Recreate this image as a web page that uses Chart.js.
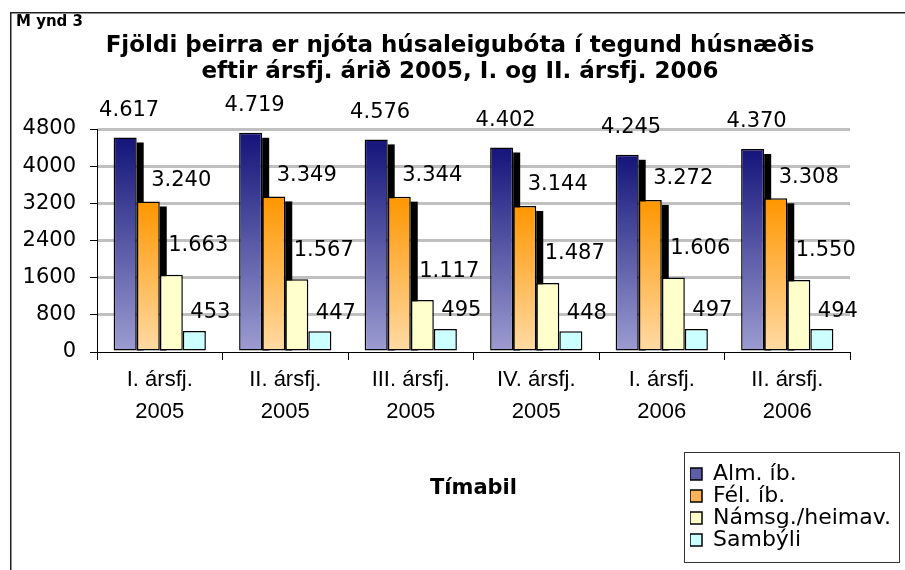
<!DOCTYPE html>
<html>
<head>
<meta charset="utf-8">
<script src="https://cdn.jsdelivr.net/npm/chart.js@4.4.0/dist/chart.umd.min.js"></script>
<style>
html,body{margin:0;padding:0;background:#fff;}
#wrap{width:905px;height:570px;position:relative;}
</style>
</head>
<body>
<div id="wrap"><canvas id="c" width="905" height="570"></canvas></div>
<script>
// ---- data ----
const categories = [
  ['I. ársfj.', '2005'],
  ['II. ársfj.', '2005'],
  ['III. ársfj.', '2005'],
  ['IV. ársfj.', '2005'],
  ['I. ársfj.', '2006'],
  ['II. ársfj.', '2006']
];
const seriesNames = ['Alm. íb.', 'Fél. íb.', 'Námsg./heimav.', 'Sambýli'];
const almIb   = [4617, 4719, 4576, 4402, 4245, 4370];
const felIb   = [3240, 3349, 3344, 3144, 3272, 3308];
const namsg   = [1663, 1567, 1117, 1487, 1606, 1550];
const sambyli = [453, 447, 495, 448, 497, 494];
const yTickValues = [0, 800, 1600, 2400, 3200, 4000, 4800];
const titleLines = ['Fjöldi þeirra er njóta húsaleigubóta í tegund húsnæðis', 'eftir ársfj. árið 2005, I. og II. ársfj. 2006'];
const xAxisTitle = 'Tímabil';
const figureLabel = 'M ynd 3';

// ---- styles ----
const SANS = '"DejaVu Sans", "Liberation Sans", sans-serif';
const CAT = '"Liberation Sans", Arial, sans-serif';
const barTop    = ['#14147a', '#ff9600', '#ffffcc', '#ccffff'];
const barBottom = ['#9d9dd2', '#ffdba6', '#ffffcc', '#ccffff'];
const legendFill = ['#5e5ea6', '#ffb45c', '#ffffcc', '#ccffff'];
const labelOffsets = [[4, -27], [33, -21], [27, -29], [16, -18]];
const shadowSeries = [0, 1];

function fmt(n) { return String(n).replace(/\B(?=(\d{3})+(?!\d))/g, '.'); }

function gradFor(i) {
  return function (ctx) {
    const chart = ctx.chart;
    if (ctx.type !== 'data' || !chart.chartArea || !chart.scales.y) return barTop[i];
    const y = chart.scales.y;
    const v = ctx.parsed ? ctx.parsed.y : ctx.raw;
    const yT = y.getPixelForValue(v), yB = y.getPixelForValue(0);
    if (!isFinite(yT) || !isFinite(yB) || yT === yB) return barTop[i];
    const g = chart.ctx.createLinearGradient(0, yT, 0, yB);
    g.addColorStop(0, barTop[i]);
    g.addColorStop(1, barBottom[i]);
    return g;
  };
}

const seriesValues = [almIb, felIb, namsg, sambyli];
const datasets = seriesValues.map((vals, i) => ({
  label: seriesNames[i],
  data: vals,
  backgroundColor: gradFor(i),
  borderColor: '#000',
  borderWidth: 1.5,
  borderSkipped: false,
  categoryPercentage: 0.735,
  barPercentage: 1.0
}));

const framePlugin = {
  id: 'frame',
  beforeDraw(chart) {
    const c = chart.ctx;
    c.save();
    c.fillStyle = '#fff';
    c.fillRect(0, 0, chart.width, chart.height);
    c.strokeStyle = '#222';
    c.lineWidth = 1.5;
    c.beginPath();
    c.moveTo(10.75, chart.height);
    c.lineTo(10.75, 12.75);
    c.lineTo(chart.width, 12.75);
    c.stroke();
    c.restore();
  },
  afterDraw(chart) {
    const c = chart.ctx;
    c.save();
    c.fillStyle = '#000';
    c.font = 'bold 15px ' + SANS;
    c.textBaseline = 'middle';
    c.textAlign = 'left';
    c.fillText(figureLabel, 16, 22);
    // legend frame
    c.strokeStyle = '#333';
    c.lineWidth = 1;
    c.strokeRect(684.5, 452.5, 215, 110);
    c.restore();
  }
};

const shadowPlugin = {
  id: 'shadow3d',
  beforeDatasetsDraw(chart) {
    const c = chart.ctx;
    c.save();
    c.fillStyle = '#000';
    shadowSeries.forEach(di => {
      chart.getDatasetMeta(di).data.forEach(el => {
        const p = el.getProps(['x', 'y', 'base', 'width'], true);
        c.fillRect(p.x + p.width / 2, p.y + 5, 7, p.base - p.y - 5);
      });
    });
    c.restore();
  }
};

const valueLabelPlugin = {
  id: 'valueLabels',
  afterDatasetsDraw(chart) {
    const c = chart.ctx;
    c.save();
    c.fillStyle = '#000';
    c.font = '21px ' + SANS;
    c.textAlign = 'center';
    c.textBaseline = 'middle';
    chart.data.datasets.forEach((ds, di) => {
      const off = labelOffsets[di];
      chart.getDatasetMeta(di).data.forEach((el, j) => {
        const p = el.getProps(['x', 'y'], true);
        c.fillText(fmt(ds.data[j]), p.x + off[0], p.y + off[1]);
      });
    });
    c.restore();
  }
};

const legendPlacePlugin = {
  id: 'legendPlace',
  afterLayout(chart) {
    const lg = chart.legend;
    if (!lg) return;
    lg.left = 690; lg.top = 463; lg.right = 899; lg.bottom = 560;
    lg.width = 209; lg.height = 97;
  }
};

new Chart(document.getElementById('c'), {
  type: 'bar',
  data: { labels: categories, datasets: datasets },
  options: {
    responsive: false,
    animation: false,
    devicePixelRatio: 1,
    layout: { padding: { left: 15, right: 0, top: 0, bottom: 0 } },
    plugins: {
      title: {
        display: true,
        text: titleLines,
        color: '#000',
        font: { family: SANS, weight: 'bold', size: 23, lineHeight: 26 / 23 },
        padding: { top: 33, bottom: 44 }
      },
      legend: {
        display: true,
        position: 'chartArea',
        align: 'start',
        labels: {
          color: '#000',
          font: { family: SANS, size: 22, lineHeight: 1.0 },
          boxWidth: 12,
          boxHeight: 12,
          padding: 0,
          generateLabels(chart) {
            return chart.data.datasets.map((ds, i) => ({
              text: ds.label,
              fillStyle: legendFill[i],
              strokeStyle: '#000',
              lineWidth: 1.5,
              hidden: false,
              datasetIndex: i
            }));
          }
        }
      },
      tooltip: { enabled: false }
    },
    scales: {
      x: {
        position: 'bottom',
        grid: { display: true, drawOnChartArea: false, offset: true, tickLength: 8, tickColor: '#000', tickWidth: 1 },
        border: { display: true, color: '#000', width: 1 },
        ticks: {
          color: '#000',
          font: { family: CAT, size: 22, lineHeight: 32 / 22 },
          padding: 4,
          maxRotation: 0,
          autoSkip: false
        },
        title: {
          display: true,
          text: xAxisTitle,
          color: '#000',
          font: { family: SANS, weight: 'bold', size: 21, lineHeight: 1.2 },
          padding: { top: 0, bottom: 69 }
        },
        afterFit(s) { s.height = 218; }
      },
      y: {
        position: 'left',
        min: 0,
        max: 4800,
        afterBuildTicks(s) { s.ticks = yTickValues.map(v => ({ value: v })); },
        grid: {
          color: ctx => (ctx.tick && ctx.tick.value === 0) ? 'rgba(0,0,0,0)' : '#c0c0c0',
          lineWidth: 3,
          tickLength: 7,
          tickColor: '#000',
          tickWidth: 1
        },
        border: { display: true, color: '#000', width: 1 },
        ticks: {
          color: '#000',
          font: { family: SANS, size: 21 },
          padding: 14,
          callback: v => String(v)
        },
        afterFit(s) { s.width = 82; }
      },
      y2: {
        position: 'right',
        display: true,
        grid: { display: false },
        border: { display: false },
        ticks: { display: false },
        afterFit(s) { s.width = 55; }
      }
    }
  },
  plugins: [framePlugin, shadowPlugin, valueLabelPlugin, legendPlacePlugin]
});
</script>
</body>
</html>
